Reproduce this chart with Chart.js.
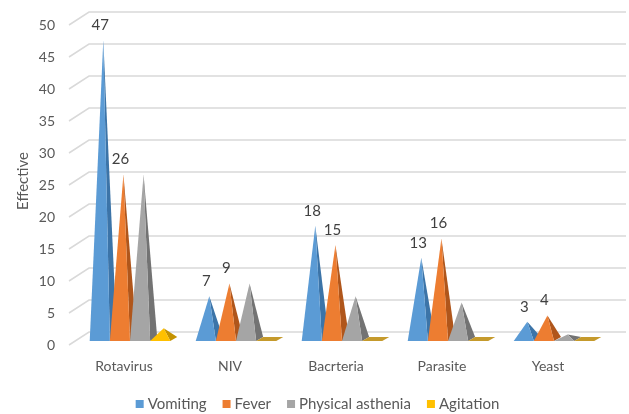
<!DOCTYPE html>
<html>
<head>
<meta charset="utf-8">
<script src="https://cdn.jsdelivr.net/npm/chart.js@4"></script>
<style>
  html, body { margin: 0; padding: 0; background: #fff; }
  #wrap { width: 629px; height: 414px; }
</style>
</head>
<body>
<div id="wrap"><canvas id="chart"></canvas></div>
<script>
// data
const categories = ["Rotavirus", "NIV", "Bacrteria", "Parasite", "Yeast"];
const seriesNames = ["Vomiting", "Fever", "Physical asthenia", "Agitation"];
const vomiting = [47, 7, 18, 13, 3];
const fever = [26, 9, 15, 16, 4];
const asthenia = [26, 9, 7, 6, 1];
const agitation = [2, 0, 0, 0, 0];
const yTicks = [0, 5, 10, 15, 20, 25, 30, 35, 40, 45, 50];

// front face / side face / flat colour
const faceColors = ["#5b9bd5", "#ed7d31", "#a5a5a5", "#ffc000"];
const sideColors = ["#3c74a8", "#b0561b", "#737373", "#c49200"];
const flatColors = ["#3c74a8", "#b0561b", "#8a8a8a", "#c59a2c"];
const labelled = [true, true, false, false];

const FONT = "Lato, 'Liberation Sans', sans-serif";
const DX = 7, DY = 4; // depth offset of the oblique projection

// 3D back-wall grid lines
const wallGrid = {
  id: "wallGrid",
  beforeDatasetsDraw(chart) {
    const { ctx, chartArea, scales } = chart;
    ctx.save();
    ctx.strokeStyle = "#d9d9d9";
    ctx.lineWidth = 1.5;
    yTicks.forEach((v) => {
      const p = scales.y.getPixelForValue(v);
      ctx.beginPath();
      ctx.moveTo(chartArea.left - 8, p + 4);
      ctx.lineTo(chartArea.left + 12, p - 9);
      ctx.lineTo(chartArea.right + 19, p - 9);
      ctx.stroke();
    });
    ctx.restore();
  },
};

// pyramids drawn on top of the (invisible) bar elements
const pyramids = {
  id: "pyramids",
  afterDatasetsDraw(chart) {
    const { ctx } = chart;
    ctx.save();
    chart.data.datasets.forEach((ds, di) => {
      const meta = chart.getDatasetMeta(di);
      meta.data.forEach((bar, i) => {
        const w = bar.width;
        const x0 = bar.x - w / 2;
        const x1 = bar.x + w / 2;
        const base = bar.base;
        const top = bar.y;
        if (ds.data[i] === 0) {
          ctx.fillStyle = flatColors[di];
          ctx.beginPath();
          ctx.moveTo(x0, base);
          ctx.lineTo(x1, base);
          ctx.lineTo(x1 + DX, base - DY);
          ctx.lineTo(x0 + DX, base - DY);
          ctx.closePath();
          ctx.fill();
          return;
        }
        const ax = bar.x + DX / 2;
        // side face
        ctx.fillStyle = sideColors[di];
        ctx.beginPath();
        ctx.moveTo(x1, base);
        ctx.lineTo(x1 + DX, base - DY);
        ctx.lineTo(ax, top);
        ctx.closePath();
        ctx.fill();
        // front face
        ctx.fillStyle = faceColors[di];
        ctx.beginPath();
        ctx.moveTo(x0, base);
        ctx.lineTo(x1, base);
        ctx.lineTo(ax, top);
        ctx.closePath();
        ctx.fill();
        // value label
        if (labelled[di]) {
          ctx.fillStyle = "#404040";
          ctx.font = "15px " + FONT;
          ctx.textAlign = "center";
          ctx.textBaseline = "middle";
          ctx.fillText(String(ds.data[i]), ax - 3, top - 15);
        }
      });
    });
    ctx.restore();
  },
};

// legend drawn below the axis labels
const bottomLegend = {
  id: "bottomLegend",
  afterDraw(chart) {
    const { ctx } = chart;
    const box = 8, gapText = 4, gapItem = 16, y = 404;
    ctx.save();
    ctx.font = "15px " + FONT;
    ctx.textBaseline = "middle";
    ctx.textAlign = "left";
    const widths = seriesNames.map((n) => ctx.measureText(n).width);
    const total = widths.reduce((a, b) => a + b, 0) +
      seriesNames.length * (box + gapText) + (seriesNames.length - 1) * gapItem;
    let x = chart.width / 2 + 3 - total / 2;
    seriesNames.forEach((n, k) => {
      ctx.fillStyle = faceColors[k];
      ctx.fillRect(x, y - box / 2, box, box);
      x += box + gapText;
      ctx.fillStyle = "#595959";
      ctx.fillText(n, x, y);
      x += widths[k] + gapItem;
    });
    ctx.restore();
  },
};

const seriesData = [vomiting, fever, asthenia, agitation];

new Chart(document.getElementById("chart"), {
  type: "bar",
  data: {
    labels: categories,
    datasets: seriesNames.map((name, k) => ({
      label: name,
      data: seriesData[k],
      backgroundColor: "rgba(0,0,0,0)",
      borderWidth: 0,
      categoryPercentage: 0.76,
      barPercentage: 1.0,
    })),
  },
  options: {
    responsive: true,
    maintainAspectRatio: false,
    animation: false,
    layout: { padding: { top: 21, right: 22, left: 0, bottom: 0 } },
    plugins: {
      tooltip: { enabled: false },
      legend: { display: false },
    },
    scales: {
      x: {
        afterFit(scale) { scale.height = 73; },
        grid: { display: false },
        border: { display: false },
        ticks: {
          labelOffset: -6,
          padding: 9,
          color: "#595959",
          font: { family: FONT, size: 14 },
        },
      },
      y: {
        min: 0,
        max: 50,
        afterFit(scale) {
          scale.width = 77;
          scale.paddingTop = 0;
          scale.paddingBottom = 0;
        },
        afterBuildTicks(scale) { scale.ticks = yTicks.map((v) => ({ value: v })); },
        grid: { display: false },
        border: { display: false },
        ticks: {
          labelOffset: 4,
          padding: 14,
          color: "#595959",
          font: { family: FONT, size: 14 },
        },
        title: {
          display: true,
          text: "Effective",
          color: "#595959",
          font: { family: FONT, size: 15 },
          padding: { top: 14, bottom: 0 },
        },
      },
    },
  },
  plugins: [wallGrid, pyramids, bottomLegend],
});
</script>
</body>
</html>
